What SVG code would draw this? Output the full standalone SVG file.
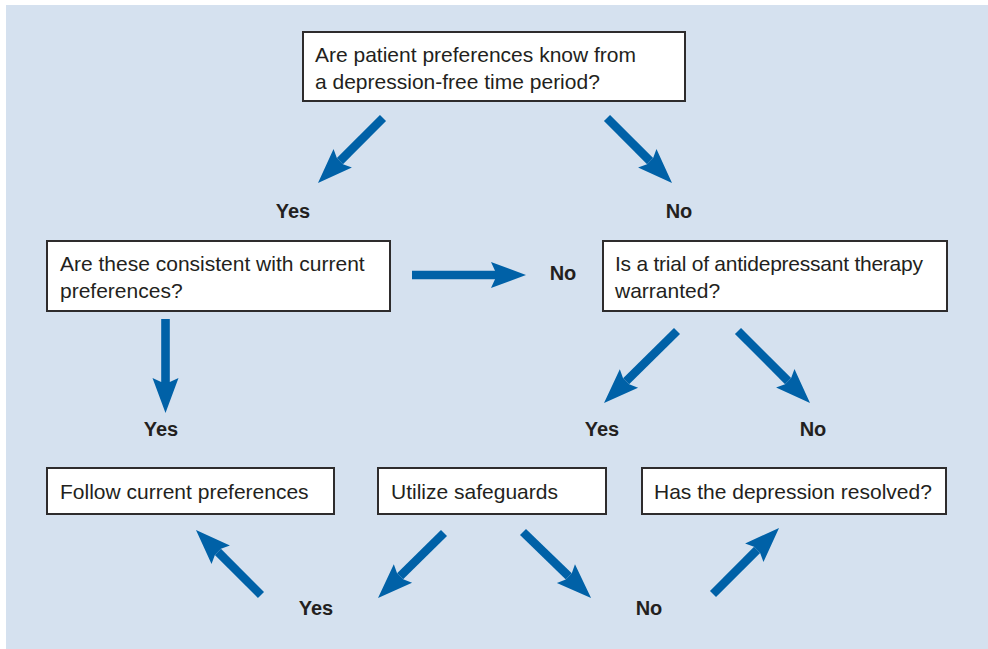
<svg xmlns="http://www.w3.org/2000/svg" width="988" height="649" viewBox="0 0 988 649">
<style>
.bg{fill:#d5e1ef}
.box{fill:#fff;stroke:#2e2c2d;stroke-width:2}
.t{font-family:"Liberation Sans",Arial,sans-serif;font-size:21px;fill:#231f20}
.lbl{font-family:"Liberation Sans",Arial,sans-serif;font-size:20px;font-weight:bold;fill:#231f20;text-anchor:middle}
.arr{stroke:#0061a7;stroke-width:8.6;fill:none;marker-end:url(#ah)}
</style>
<defs>
<marker id="ah" markerUnits="userSpaceOnUse" markerWidth="36" markerHeight="28" refX="4" refY="13.5" orient="auto" overflow="visible">
<path d="M0,0.5 L35,13.5 L0,26.5 L4,17.8 L4,9.2 Z" fill="#0061a7"/>
</marker>
</defs>
<rect class="bg" x="6" y="5" width="982" height="644"/>
<g id="n1"><rect class="box" x="303" y="32" width="382" height="69"/>
<text class="t" x="315" y="62">Are patient preferences know from</text>
<text class="t" x="315" y="89">a depression-free time period?</text></g>
<g id="n2"><rect class="box" x="47" y="241" width="343" height="70"/>
<text class="t" x="60" y="271">Are these consistent with current</text>
<text class="t" x="60" y="298">preferences?</text></g>
<g id="n3"><rect class="box" x="603" y="241" width="344" height="70"/>
<text class="t" x="615" y="271" textLength="308" lengthAdjust="spacing">Is a trial of antidepressant therapy</text>
<text class="t" x="615" y="298">warranted?</text></g>
<g id="n4"><rect class="box" x="47" y="468" width="287" height="46"/>
<text class="t" x="60" y="499">Follow current preferences</text></g>
<g id="n5"><rect class="box" x="378" y="468" width="228" height="46"/>
<text class="t" x="391" y="499">Utilize safeguards</text></g>
<g id="n6"><rect class="box" x="642" y="468" width="304" height="46"/>
<text class="t" x="654" y="499">Has the depression resolved?</text></g>
<g id="labels">
<text class="lbl" x="293" y="218">Yes</text>
<text class="lbl" x="679" y="218">No</text>
<text class="lbl" x="563" y="280">No</text>
<text class="lbl" x="161" y="436">Yes</text>
<text class="lbl" x="602" y="436">Yes</text>
<text class="lbl" x="813" y="436">No</text>
<text class="lbl" x="316" y="615">Yes</text>
<text class="lbl" x="649" y="615">No</text>
</g>
<g id="connectors">
<line class="arr" x1="383" y1="118" x2="339.9" y2="161.1"/>
<line class="arr" x1="607" y1="118" x2="650.1" y2="161.1"/>
<line class="arr" x1="412" y1="275" x2="495" y2="275"/>
<line class="arr" x1="165.5" y1="319" x2="165.5" y2="382"/>
<line class="arr" x1="677" y1="331" x2="626.1" y2="381.2"/>
<line class="arr" x1="738" y1="331" x2="788.1" y2="381.1"/>
<line class="arr" x1="261" y1="595" x2="217.9" y2="551.9"/>
<line class="arr" x1="444" y1="533" x2="400.1" y2="576.3"/>
<line class="arr" x1="523" y1="532" x2="568.8" y2="576.4"/>
<line class="arr" x1="713" y1="594" x2="757.1" y2="549.9"/>
</g>
</svg>
